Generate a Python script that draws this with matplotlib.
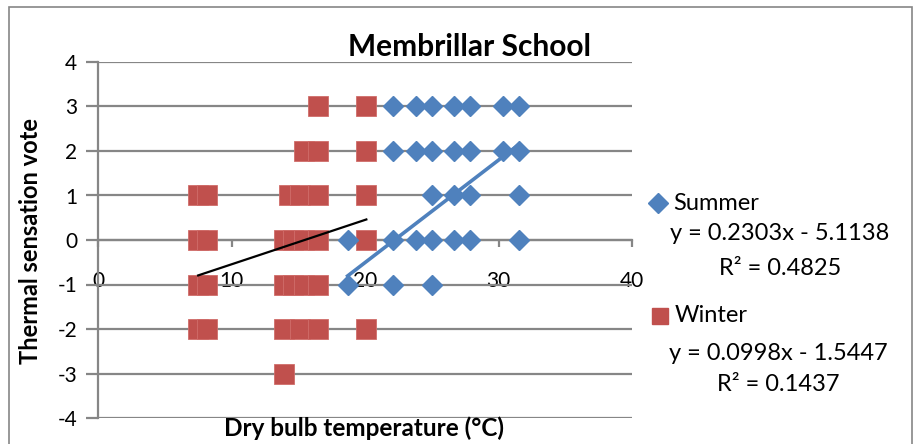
import matplotlib
matplotlib.use("Agg")
import matplotlib.pyplot as plt
from matplotlib.lines import Line2D
from matplotlib.patches import Rectangle
from matplotlib.ticker import FuncFormatter
import numpy as np

plt.rcParams['font.family'] = ['Lato', 'DejaVu Sans']

# Summer data (diamonds)
summer_x = [22.1, 23.8, 25.0, 26.7, 27.9, 30.3, 31.5,
            22.1, 23.8, 25.0, 26.7, 27.9, 30.3, 31.5,
            25.0, 26.7, 27.9, 31.5,
            18.7, 22.1, 23.8, 25.0, 26.7, 27.9, 31.5,
            18.7, 22.1, 25.0]
summer_y = [3, 3, 3, 3, 3, 3, 3,
            2, 2, 2, 2, 2, 2, 2,
            1, 1, 1, 1,
            0, 0, 0, 0, 0, 0, 0,
            -1, -1, -1]

# Winter data (squares)
winter_x = [16.5, 20.1,
            15.4, 16.5, 20.1,
            7.5, 8.2, 14.3, 15.1, 16.5, 20.1,
            7.5, 8.2, 13.9, 14.6, 15.4, 16.5, 20.1,
            7.5, 8.2, 13.9, 14.6, 15.4, 16.5,
            7.5, 8.2, 13.9, 15.1, 16.5, 20.1,
            13.9]
winter_y = [3, 3,
            2, 2, 2,
            1, 1, 1, 1, 1, 1,
            0, 0, 0, 0, 0, 0, 0,
            -1, -1, -1, -1, -1, -1,
            -2, -2, -2, -2, -2, -2,
            -3]

summer_fit = (0.2303, -5.1138)
winter_fit = (0.0998, -1.5447)
summer_r2 = 0.4825
winter_r2 = 0.1437

xticks = [0, 10, 20, 30, 40]
yticks = [-4, -3, -2, -1, 0, 1, 2, 3, 4]

BLUE = '#4F81BD'
RED = '#C0504D'
GRID = '#868686'

W, H = 920, 444
fig = plt.figure(figsize=(W / 100, H / 100), dpi=100)
fig.add_artist(Rectangle((9 / W, -0.1), (912 - 9) / W, 1.1 - 7 / H,
                         transform=fig.transFigure, fill=False,
                         edgecolor=GRID, linewidth=1.2))

ax = fig.add_axes([98 / W, (H - 418) / H, (632 - 98) / W, (418 - 62) / H])
ax.set_xlim(0, 40)
ax.set_ylim(-4, 4)

ax.set_yticks(yticks)
ax.set_xticks(xticks)
fmt = FuncFormatter(lambda v, p: f'{int(round(v))}')
ax.xaxis.set_major_formatter(fmt)
ax.yaxis.set_major_formatter(fmt)
ax.yaxis.grid(True, color=GRID, linewidth=1.6)
ax.set_axisbelow(True)
for s in ['top', 'right']:
    ax.spines[s].set_visible(False)
ax.spines['left'].set_color(GRID)
ax.spines['left'].set_linewidth(1.6)
ax.spines['bottom'].set_position(('data', 0))
ax.spines['bottom'].set_color(GRID)
ax.spines['bottom'].set_linewidth(1.6)
ax.tick_params(axis='y', direction='out', length=9, width=1.6, color=GRID,
               labelsize=15, pad=6)
ax.tick_params(axis='x', direction='out', length=5, width=1.6, color=GRID,
               labelsize=15, pad=17)

# Data points
ax.plot(winter_x, winter_y, linestyle='none', marker='s', markersize=14,
        color=RED, markeredgecolor='#D06D6A', markeredgewidth=0.6, zorder=3)
ax.plot(summer_x, summer_y, linestyle='none', marker='D', markersize=10.5,
        color=BLUE, markeredgecolor=BLUE, zorder=3)

# Trend lines
sx = np.array([min(summer_x), max(summer_x)])
ax.plot(sx, summer_fit[0] * sx + summer_fit[1], color=BLUE, linewidth=2.6, zorder=4)
wx = np.array([min(winter_x), max(winter_x)])
ax.plot(wx, winter_fit[0] * wx + winter_fit[1], color='black', linewidth=1.6, zorder=4)

# Titles
fig.text(470 / W, 1 - 47 / H, 'Membrillar School', ha='center', va='center',
         fontsize=21.5, fontweight='bold')
fig.text(364 / W, 1 - 428 / H, 'Dry bulb temperature (°C)', ha='center', va='center',
         fontsize=17.5, fontweight='bold')
fig.text(31 / W, 1 - 241 / H, 'Thermal sensation vote', ha='center', va='center',
         fontsize=17, fontweight='bold', rotation=90)

# Legend
fig.add_artist(Line2D([658 / W], [1 - 203 / H], transform=fig.transFigure,
                      marker='D', markersize=10, color=BLUE, linestyle='none'))
fig.text(673 / W, 1 - 203 / H, 'Summer', ha='left', va='center', fontsize=17)
fig.text(780 / W, 1 - 233 / H, f'y = {summer_fit[0]:.4f}x - {abs(summer_fit[1]):.4f}',
         ha='center', va='center', fontsize=17)
fig.text(780 / W, 1 - 268 / H, f'R² = {summer_r2:.4f}', ha='center', va='center', fontsize=17)
fig.add_artist(Line2D([660 / W], [1 - 316 / H], transform=fig.transFigure,
                      marker='s', markersize=12, color=RED, linestyle='none'))
fig.text(675 / W, 1 - 316 / H, 'Winter', ha='left', va='center', fontsize=17)
fig.text(778 / W, 1 - 353 / H, f'y = {winter_fit[0]:.4f}x - {abs(winter_fit[1]):.4f}',
         ha='center', va='center', fontsize=17)
fig.text(778 / W, 1 - 384 / H, f'R² = {winter_r2:.4f}', ha='center', va='center', fontsize=17)

fig.savefig('out.png', dpi=100)
